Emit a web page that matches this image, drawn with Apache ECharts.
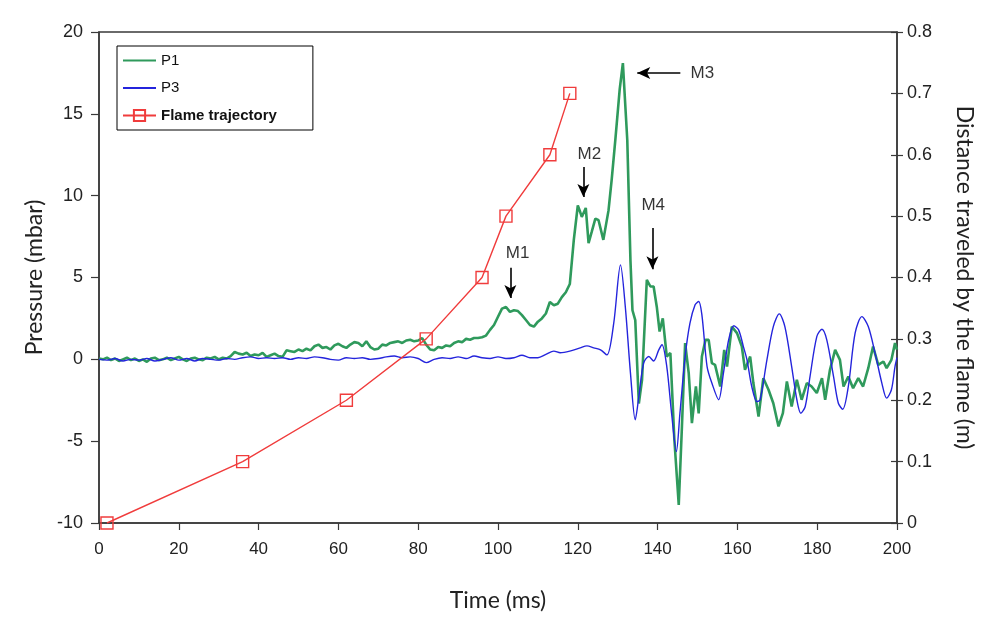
<!DOCTYPE html>
<html>
<head>
<meta charset="utf-8">
<script src="https://cdn.jsdelivr.net/npm/echarts@6/dist/echarts.min.js"></script>
<style>
html,body{margin:0;padding:0;background:#fff;}
#chart{width:988px;height:617px;}
</style>
</head>
<body>
<div id="chart"></div>
<script>
// ---- Data ----
const xTicks = [0, 20, 40, 60, 80, 100, 120, 140, 160, 180, 200];

const p1Time = [0,1,2,3,4,5,6,7,8,9,10,11,12,13,14,15,16,17,18,19,20,21,22,23,24,25,26,27,28,29,30,31,32,33,34,35,36,37,38,39,40,41,42,43,44,45,46,47,48,49,50,51,52,53,54,55,56,57,58,59,60,61,62,63,64,65,66,67,68,69,70,71,72,73,74,75,76,77,78,79,80,81,82,83,84,85,86,87,88,89,90,91,92,93,94,95,96,97,98,99,100,101,102,103,104,105,106,107,108,109,110,111,112,113,114,115,116,117,118,119,120,120.6,121,122,122.7,123.5,124.4,125.2,126.4,127.7,128.5,129.4,130.5,131.3,132.4,133.2,133.7,134.4,135.3,136.1,137.3,138.2,139,139.8,140.5,141.3,142.3,143.2,144.2,145.3,146.1,146.9,147.8,148.6,149.6,150.3,151.1,152,152.8,153.6,154.4,155.7,156.7,157.4,158.6,159.9,161.1,161.9,163.2,164,165.3,166.5,167.8,169,170.3,171.4,172.4,173.6,174.9,176.1,177.4,178.6,179.9,181.2,182,183.2,184.5,185.7,186.6,187.8,189,190.3,191.5,192.8,194,195.3,196.6,197.4,198.6,199.5,200];
const p1Values = [0.05,0.0,0.1,-0.05,0.05,-0.1,0.0,0.1,-0.05,0.05,-0.1,0.0,-0.15,0.05,0.1,-0.05,0.0,0.1,-0.05,0.05,0.15,0.0,-0.1,0.05,0.1,0.0,-0.05,0.1,0.05,0.15,0.0,0.1,0.05,0.2,0.45,0.35,0.3,0.4,0.2,0.3,0.25,0.4,0.15,0.25,0.35,0.2,0.15,0.55,0.5,0.45,0.6,0.5,0.65,0.55,0.8,0.9,0.7,0.75,0.6,0.85,0.95,0.8,0.7,0.9,1.05,1.0,0.8,1.1,0.75,0.6,0.65,0.9,0.85,1.0,1.05,1.1,1.0,1.15,1.2,1.1,1.15,1.3,0.9,0.6,0.55,0.75,0.7,0.85,0.8,1.0,1.1,1.05,1.25,1.2,1.3,1.3,1.35,1.45,1.8,2.1,2.6,3.1,3.2,2.9,3.0,2.95,2.7,2.4,2.1,2.0,2.3,2.5,2.8,3.5,3.3,3.4,3.8,4.1,4.6,7.3,9.4,9.0,8.7,9.25,7.1,7.8,8.6,8.5,7.3,9.1,11.0,13.4,16.5,18.1,13.4,6.0,3.0,2.4,-2.7,-1.25,4.86,4.45,4.45,3.2,1.7,2.5,0.17,0.39,-4.9,-8.9,-4.1,0.99,-0.84,-3.9,-1.66,-3.3,0.17,1.19,1.19,-0.23,-0.34,-1.66,0.58,-0.44,2.0,1.6,0.8,-0.64,0.17,-1.45,-3.5,-1.15,-1.86,-2.68,-4.1,-3.29,-1.35,-2.88,-1.25,-2.47,-1.45,-1.66,-2.06,-1.15,-2.47,-0.64,0.58,-0.03,-1.66,-1.05,-1.76,-1.15,-1.66,-0.54,0.78,-0.34,-0.13,-0.54,-0.03,0.99,0.6];

const p3Time = [0,2,4,6,8,10,12,14,16,18,20,22,24,26,28,30,32,34,36,38,40,42,44,46,48,50,52,54,56,58,60,62,64,66,68,70,72,74,76,78,80,82,84,86,88,90,92,94,96,98,100,102,104,106,108,110,112,114,115.6,118,120.6,122.3,124,125.7,127.3,129,130.7,131.9,133.2,134.4,135.3,136.5,137.8,139,140.3,141.1,142.3,143.5,144.7,145.6,146.9,148.1,149.4,150.3,151.1,152.4,153.6,155.3,156.5,157.8,159.1,160.3,161.5,162.4,163.6,164.9,165.7,167.4,169,170.5,171.9,173.6,174.9,175.9,177,178.2,179.9,181.2,182.4,184.1,185.3,186.4,187.8,189.5,191.2,192.8,194.5,196.2,197.4,198.6,199.5,200];
const p3Values = [0.0,-0.05,0.05,-0.1,0.0,-0.05,0.05,-0.1,0.0,0.1,-0.05,0.05,-0.1,0.05,0.0,-0.05,0.05,0.0,0.1,0.15,0.05,0.1,0.05,0.1,0.0,0.1,0.05,0.15,0.1,0.0,-0.05,0.1,0.05,0.1,0.0,0.05,0.15,0.2,0.1,0.15,0.05,-0.2,0.0,0.1,0.05,0.15,0.05,0.2,0.1,0.05,0.15,0.05,0.1,0.25,0.1,0.1,0.3,0.5,0.4,0.5,0.7,0.82,0.7,0.58,0.27,2.2,5.77,3.23,-0.84,-3.7,-2.27,-0.23,0.17,-0.1,0.58,0.89,-0.44,-3.29,-5.63,-3.29,0.17,2.2,3.33,3.53,2.72,-0.44,-1.45,-2.47,-0.84,1.19,2.05,1.8,0.78,-0.03,-1.66,-2.58,-2.47,-0.03,2.0,2.78,2.0,-0.44,-2.47,-3.29,-2.88,-1.05,1.39,1.84,1.19,-1.05,-2.68,-3.05,-1.66,1.6,2.61,2.0,0.38,-1.45,-2.37,-1.86,-0.44,0.1];

const flameTime = [2, 36, 62, 82, 96, 102, 113, 118];
const flameDistance = [0, 0.1, 0.2, 0.3, 0.4, 0.5, 0.6, 0.7];

// annotations: label text and arrows (in data units of time / pressure)
const markLabels = ['M1', 'M2', 'M3', 'M4'];
const markLabelX = [104.9, 122.9, 151.2, 138.9];
const markLabelY = [6.5, 12.5, 17.5, 9.43];
const arrowFromX = [103.1, 121.4, 145.7, 138.7];
const arrowFromY = [5.6, 11.75, 17.5, 8.03];
const arrowToX = [103.1, 121.4, 134.9, 138.7];
const arrowToY = [3.75, 9.92, 17.5, 5.5];

// ---- Build chart ----
const zip = (a, b) => a.map((v, i) => [v, b[i]]);
const axisColor = '#3a3a3a';
const labelFont = "'Liberation Sans', Arial, sans-serif";
const titleFont = "Lato, 'Open Sans', sans-serif";

const chart = echarts.init(document.getElementById('chart'), null, {renderer: 'canvas'});

const option = {
  animation: false,
  backgroundColor: '#ffffff',
  grid: {
    left: 99, right: 91, top: 32, bottom: 94,
    show: true, borderColor: axisColor, borderWidth: 1.5, backgroundColor: 'transparent'
  },
  legend: {
    orient: 'vertical',
    left: 117, top: 46,
    padding: [7, 36, 7, 5],
    itemGap: 12.5,
    itemWidth: 33, itemHeight: 14,
    borderColor: '#000', borderWidth: 1,
    data: [
      { name: 'P1', itemStyle: { opacity: 0 } },
      { name: 'P3', itemStyle: { opacity: 0 } },
      { name: 'Flame trajectory' }
    ],
    textStyle: {
      fontFamily: labelFont, fontSize: 15, color: '#111',
      rich: { b: { fontWeight: 'bold', fontFamily: labelFont, fontSize: 15, color: '#111' } }
    },
    formatter: function (name) { return name === 'Flame trajectory' ? '{b|' + name + '}' : name; }
  },
  xAxis: {
    type: 'value', min: 0, max: 200, interval: 20,
    name: 'Time (ms)', nameLocation: 'middle', nameGap: 66,
    nameTextStyle: { fontFamily: titleFont, fontSize: 23, color: '#222' },
    axisLine: { onZero: false, lineStyle: { color: axisColor, width: 1.5 } },
    axisTick: { length: 7, lineStyle: { color: axisColor, width: 1.2 } },
    axisLabel: { fontFamily: labelFont, fontSize: 17, color: '#222', margin: 18 },
    splitLine: { show: false }
  },
  yAxis: [
    {
      type: 'value', min: -10, max: 20, interval: 5, position: 'left',
      name: 'Pressure (mbar)', nameLocation: 'middle', nameGap: 46,
      nameTextStyle: { fontFamily: titleFont, fontSize: 23, color: '#222' },
      axisLine: { show: true, onZero: false, lineStyle: { color: axisColor, width: 1.5 } },
      axisTick: { show: true, length: 8, lineStyle: { color: axisColor, width: 1.2 } },
      axisLabel: { fontFamily: labelFont, fontSize: 18, color: '#222', margin: 16 },
      splitLine: { show: false }
    },
    {
      type: 'value', min: 0, max: 0.8, interval: 0.1, position: 'right',
      name: 'Distance traveled by the flame (m)', nameLocation: 'middle', nameGap: 56, nameRotate: -90,
      nameTextStyle: { fontFamily: titleFont, fontSize: 23, color: '#222' },
      axisLine: { show: true, onZero: false, lineStyle: { color: axisColor, width: 1.5 } },
      axisTick: { show: true, length: 6, lineStyle: { color: axisColor, width: 1.2 } },
      axisLabel: { fontFamily: labelFont, fontSize: 18, color: '#222', margin: 10,
        formatter: v => (v === 0 ? '0' : v.toFixed(1)) },
      splitLine: { show: false }
    },
    {
      type: 'value', min: 0, max: 0.8, interval: 0.1, position: 'right', offset: 0,
      axisLine: { show: false, onZero: false },
      axisTick: { show: true, inside: true, length: 6, lineStyle: { color: axisColor, width: 1.2 } },
      axisLabel: { show: false },
      splitLine: { show: false }
    }
  ],
  series: [
    {
      name: 'P1', type: 'line', yAxisIndex: 0, z: 3,
      data: zip(p1Time, p1Values),
      showSymbol: false, symbol: 'none',
      lineStyle: { color: '#2f9a5c', width: 2.6 },
      itemStyle: { color: '#2f9a5c' },
      markLine: {
        silent: true, symbol: ['none', 'arrow'], symbolSize: [9, 13],
        label: { show: false },
        lineStyle: { color: '#000', width: 1.6, type: 'solid' },
        itemStyle: { color: '#000' },
        data: markLabels.map((m, i) => [
          { coord: [arrowFromX[i], arrowFromY[i]] },
          { coord: [arrowToX[i], arrowToY[i]] }
        ])
      }
    },
    {
      name: 'P3', type: 'line', yAxisIndex: 0, z: 4,
      data: zip(p3Time, p3Values),
      showSymbol: false, symbol: 'none', smooth: 0.3,
      lineStyle: { color: '#2424dc', width: 1.4 },
      itemStyle: { color: '#2424dc' }
    },
    {
      name: 'Flame trajectory', type: 'line', yAxisIndex: 1, z: 5,
      data: zip(flameTime, flameDistance),
      symbol: 'rect', symbolSize: 12, showSymbol: true,
      lineStyle: { color: '#f03c3c', width: 1.4 },
      itemStyle: { color: 'rgba(255,255,255,0)', borderColor: '#f03c3c', borderWidth: 1.4 }
    },
    {
      name: 'annotations', type: 'scatter', yAxisIndex: 0, z: 6,
      symbolSize: 0, silent: true,
      data: markLabels.map((m, i) => [markLabelX[i], markLabelY[i], m]),
      label: {
        show: true, position: 'inside',
        formatter: p => p.value[2],
        fontFamily: labelFont, fontSize: 17, color: '#000'
      }
    }
  ]
};
chart.setOption(option);
</script>
</body>
</html>
